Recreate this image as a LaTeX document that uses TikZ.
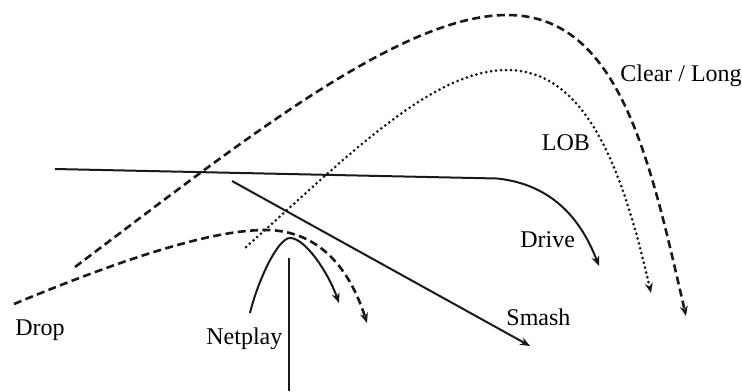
\documentclass[tikz,border=0pt]{standalone}
\usepackage{fontspec}
\setmainfont{Liberation Serif}
\usetikzlibrary{arrows.meta}
\tikzset{
  shot/.style={line width=1pt, color=black!90, -{Stealth[length=5pt, width=4pt]}},
  dashshot/.style={shot, line width=1.3pt, dash pattern=on 4pt off 2.2pt},
  dotshot/.style={shot, line width=1.5pt, line cap=round, dash pattern=on 0pt off 2.5pt},
  plain/.style={line width=1pt, color=black!90},
  lbl/.style={anchor=base west, inner sep=0pt, font=\fontsize{12}{14}\selectfont}
}

\begin{document}
\begin{tikzpicture}[x=0.5pt, y=-0.5pt]
  \useasboundingbox (0,0) rectangle (742,391);

  % Points
  \coordinate (clrS) at (75,267);   \coordinate (clrT) at (507,15);   \coordinate (clrE) at (686,316);
  \coordinate (lobS) at (246,247);  \coordinate (lobT) at (507,70);   \coordinate (lobE) at (651,293);
  \coordinate (drvS) at (55,169);   \coordinate (drvB) at (497,178.5); \coordinate (drvE) at (599,266);
  \coordinate (smsS) at (232,181);  \coordinate (smsE) at (530,346);
  \coordinate (drpS) at (14,304);   \coordinate (drpT) at (265,230);  \coordinate (drpE) at (367,323);
  \coordinate (netS) at (250,313);  \coordinate (netT) at (290,238);  \coordinate (netE) at (339,303);
  \coordinate (netA) at (288.5,258); \coordinate (netB) at (288.5,391);

  % Labels
  \node[lbl] (clear)   at (620,81.5)  {Clear / Long};
  \node[lbl] (lob)     at (541.5,150.5) {LOB};
  \node[lbl] (drive)   at (520,247)   {Drive};
  \node[lbl] (smash)   at (506,325.5) {Smash};
  \node[lbl] (netplay) at (206,344)   {Netplay};
  \node[lbl] (drop)    at (15,335)    {Drop};

  % Trajectories
  \draw[dashshot] (clrS) .. controls (240,143) and (400,15) .. (clrT)
                         .. controls (620,15) and (650,160) .. (clrE);
  \draw[dotshot]  (lobS) .. controls (343,161) and (430,70) .. (lobT)
                         .. controls (590,70) and (625,180) .. (lobE);
  \draw[shot]     (drvS) -- (drvB) .. controls (560,185) and (585,230) .. (drvE);
  \draw[shot]     (smsS) -- (smsE);
  \draw[dashshot] (drpS) .. controls (120,260) and (210,230) .. (drpT)
                         .. controls (320,230) and (350,270) .. (drpE);
  \draw[shot]     (netS) .. controls (258,280) and (278,238) .. (netT)
                         .. controls (305,238) and (328,272) .. (netE);
  \draw[plain]    (netA) -- (netB);

\end{tikzpicture}
\end{document}
